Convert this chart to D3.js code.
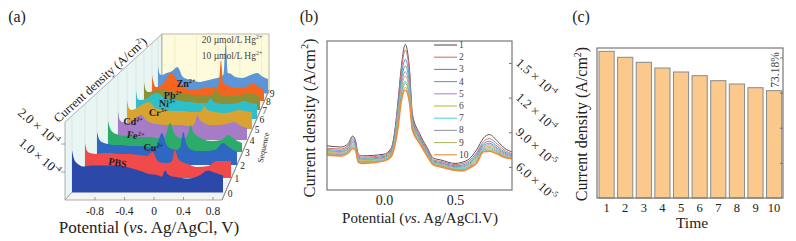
<!DOCTYPE html>
<html>
<head>
<meta charset="utf-8">
<script src="https://cdn.jsdelivr.net/npm/d3@7"></script>
<style>
  body { margin: 0; background: #fff; }
  svg { display: block; }
  text { font-family: "Liberation Serif", serif; fill: #222; }
</style>
</head>
<body>
<svg width="796" height="241"></svg>
<script>
// (a) waterfall, values in 1e-4 A/cm2 above each layer's own baseline
const wfPotential = [-1.11, -1.08, -1.04, -0.95, -0.85, -0.75, -0.65, -0.5, -0.35, -0.25, -0.17, -0.1, -0.02, 0.05, 0.1, 0.14, 0.18, 0.24, 0.32, 0.45, 0.6, 0.72, 0.8, 0.92];
const wf0 = [1.5, 1.18, 1.04, .93, .96, .96, .96, .96, .89, .82, .75, .68, .64, .61, .57, .79, .64, .57, .54, .5, .61, .79, .71, .61];
const wf1 = [1.25, .96, .89, .86, .89, .89, .86, .86, .82, .79, .93, .61, .54, .54, .61, 1, .71, .57, .5, .39, .43, .61, .61, .61];
const wf2 = [1.18, .93, .82, .75, .71, .71, .68, .68, .64, .68, 1.14, .71, .57, .54, .64, 1.18, .79, .57, .5, .5, .54, .79, .64, .46];
const wf3 = [1.11, .86, .71, .61, .57, .57, .54, .54, .5, .54, 1.04, .64, .5, .5, .61, .96, .71, .57, .46, .39, .43, .61, .46, .32];
const wf4 = [1.04, .71, .64, .61, .75, .89, .68, .57, .54, .54, .54, .54, .5, .5, .61, .89, .71, .61, .54, .54, .57, .64, .54, .43];
const wf5 = [1.04, .75, .68, .75, .89, .96, .75, .68, .64, .64, .64, .61, .61, .61, .64, .82, .71, .64, .61, .57, .61, .68, .64, .61];
const wf6 = [1.04, .71, .68, .71, .86, .93, .79, .71, .64, .61, .61, .57, .57, .57, .61, .75, .64, .57, .54, .54, .57, .64, .57, .54];
const wf7 = [1, .71, .64, .68, .75, .75, .64, .61, .57, .54, .54, .54, .54, .54, .57, .79, .64, .54, .5, .5, .54, .61, .57, .5];
const wf8 = [.93, .64, .5, .54, .79, 1, .71, .46, .39, .43, .46, .46, .5, .5, .61, 1.46, .64, .57, .5, .46, .5, .64, .54, .39];
const wf9 = [.96, .68, .64, .71, .79, .93, .57, .46, .39, .43, .46, .5, .54, .57, .68, 1.82, .71, .68, .57, .54, .64, .71, .61, .5];
const wfLayers = [wf0, wf1, wf2, wf3, wf4, wf5, wf6, wf7, wf8, wf9];
const wfColors = ['#2c48a8', '#f14a4a', '#2f68c2', '#2cab6a', '#a67cc6', '#d8a42f', '#2ebfcb', '#8e9036', '#f4661f', '#5c96d6'];
const sequence = [0, 1, 2, 3, 4, 5, 6, 7, 8, 9];
const potentialTicks = [-0.8, -0.4, 0, 0.4, 0.8];
const potentialTickLabels = ['-0.8', '-0.4', '0', '0.4', '0.8'];
const ionLabels = ['PBS', 'Cu', 'Fe', 'Cd', 'Cr', 'Ni', 'Pb', 'Zn'];
const ionCharges = ['', '2+', '2+', '2+', '3+', '3+', '2+', '2+'];

// (b) repeat scans, values in 1e-5 A/cm2
const scanPotential = [-0.4, -0.3, -0.25, -0.22, -0.2, -0.18, -0.15, 0, 0.05, 0.08, 0.1, 0.12, 0.15, 0.18, 0.2, 0.25, 0.3, 0.35, 0.4, 0.5, 0.55, 0.6, 0.65, 0.7, 0.74, 0.8, 0.85, 0.9];
const scan1 = [7.83, 7.72, 8.05, 8.67, 8.3, 7.1, 6.96, 7.1, 7.6, 9.45, 11.8, 14.4, 16.6, 14.4, 10.6, 8.9, 7.75, 6.75, 6.6, 6.3, 6.4, 6.7, 7.45, 8.5, 8.8, 8.2, 7.6, 7.3];
const scan2 = [7.62, 7.55, 7.9, 8.52, 8.14, 6.95, 6.85, 7.0, 7.5, 9.3, 11.6, 14.1, 16.13, 14.1, 10.4, 8.75, 7.62, 6.6, 6.48, 6.2, 6.28, 6.55, 7.2, 8.2, 8.45, 7.95, 7.42, 7.15];
const scan3 = [7.5, 7.44, 7.78, 8.36, 8.0, 6.85, 6.75, 6.9, 7.4, 9.1, 11.35, 13.6, 15.3, 13.6, 10.2, 8.6, 7.5, 6.5, 6.38, 6.1, 6.16, 6.42, 7.05, 8.0, 8.22, 7.75, 7.28, 7.05];
const scan4 = [7.4, 7.34, 7.66, 8.22, 7.9, 6.76, 6.66, 6.82, 7.3, 8.95, 11.1, 13.2, 14.74, 13.2, 10.0, 8.5, 7.4, 6.42, 6.3, 6.02, 6.06, 6.3, 6.92, 7.85, 8.05, 7.6, 7.18, 6.95];
const scan5 = [7.32, 7.26, 7.56, 8.1, 7.8, 6.68, 6.6, 6.75, 7.2, 8.8, 10.85, 12.85, 14.25, 12.85, 9.85, 8.4, 7.32, 6.35, 6.22, 5.95, 5.98, 6.22, 6.8, 7.72, 7.92, 7.5, 7.08, 6.88];
const scan6 = [7.25, 7.18, 7.48, 8.0, 7.72, 6.62, 6.53, 6.7, 7.13, 8.65, 10.6, 12.5, 13.87, 12.5, 9.7, 8.32, 7.25, 6.3, 6.16, 5.88, 5.9, 6.14, 6.7, 7.6, 7.8, 7.42, 7.0, 6.82];
const scan7 = [7.18, 7.12, 7.4, 7.9, 7.65, 6.56, 6.46, 6.63, 7.05, 8.5, 10.3, 12.2, 13.44, 12.2, 9.55, 8.24, 7.18, 6.25, 6.1, 5.82, 5.84, 6.06, 6.6, 7.52, 7.68, 7.34, 6.94, 6.76];
const scan8 = [7.12, 7.06, 7.34, 7.8, 7.58, 6.5, 6.42, 6.58, 7.0, 8.38, 10.1, 12.0, 13.24, 12.0, 9.45, 8.18, 7.12, 6.2, 6.06, 5.78, 5.76, 6.0, 6.5, 7.44, 7.56, 7.26, 6.88, 6.74];
const scan9 = [7.06, 7.0, 7.26, 7.7, 7.52, 6.45, 6.36, 6.54, 6.92, 8.2, 9.8, 11.7, 12.89, 11.7, 9.3, 8.1, 7.06, 6.16, 6.02, 5.74, 5.7, 5.95, 6.4, 7.36, 7.44, 7.18, 6.84, 6.72];
const scan10 = [7.0, 6.95, 7.2, 7.6, 7.45, 6.4, 6.3, 6.5, 6.85, 8.05, 9.45, 11.5, 12.66, 11.5, 9.2, 8.05, 7.0, 6.15, 6.0, 5.7, 5.65, 5.9, 6.3, 7.3, 7.35, 7.1, 6.8, 6.7];
const scans = [scan1, scan2, scan3, scan4, scan5, scan6, scan7, scan8, scan9, scan10];
const scanColors = ['#555555', '#e06a6a', '#5a8cdc', '#4fb096', '#b884dc', '#c8b448', '#58d4dc', '#9a9aa8', '#b0b860', '#f08a3c'];
const scanNames = ['1', '2', '3', '4', '5', '6', '7', '8', '9', '10'];
const scanYTicks = [15, 12, 9, 6];
const scanYBases = ['1.5', '1.2', '9.0', '6.0'];
const scanYExps = ['-4', '-4', '-5', '-5'];

// (c) peak current per run, 1e-5 A/cm2
const times = ['1', '2', '3', '4', '5', '6', '7', '8', '9', '10'];
const peakCurrent = [16.7, 16.02, 15.45, 14.8, 14.35, 13.93, 13.36, 12.98, 12.56, 12.22];

const svg = d3.select('svg');

// text helper, pieces are [string, style] where style is 'i', 'sup' or nothing
const addText = (parent, x, y, size, pieces, opts = {}) => {
    const t = parent.append('text')
        .attr('font-size', size)
        .attr('text-anchor', opts.anchor || 'middle')
        .attr('transform', `translate(${x},${y}) rotate(${opts.rotate || 0})`);
    if (opts.bold) t.attr('font-weight', 'bold');
    if (opts.fill) t.style('fill', opts.fill);
    let up = false;
    pieces.forEach(p => {
        const s = t.append('tspan').text(p[0]);
        if (p[1] === 'i') s.attr('font-style', 'italic');
        if (p[1] === 'sup') { s.attr('font-size', size * 0.62).attr('dy', -size * 0.4); up = true; }
        else if (up) { s.attr('dy', size * 0.4); up = false; }
    });
    return t;
};

addText(svg, 17, 22, 16, [['(a)']]);
addText(svg, 309, 22, 16, [['(b)']]);
addText(svg, 581, 22, 16, [['(c)']]);

// ---------- panel a ----------
const a = svg.append('g');
const layerLeft = d3.scaleLinear().domain(sequence).range([72, 85, 97, 108, 118, 127, 136, 144, 152, 158]);
const layerRight = d3.scaleLinear().domain(sequence).range([223, 231, 237, 242, 247, 252, 257, 260, 264, 268]);
const layerBase = d3.scaleLinear().domain(sequence).range([192.5, 178, 165, 152, 140, 129, 119, 110, 101, 93]);
const heightScale = d3.scaleLinear().domain([0, 1]).range([0, 28]);
const floorX = d3.scaleLinear().domain([-0.8, 0.8]).range([95, 213]);

// left wall, floor and back wall
a.append('path').attr('d', d3.line()([[65, 200], [65, 122], [162, 34], [162, 93]]) + 'Z')
    .attr('fill', '#e9f5f3').attr('stroke', '#9a9a9a').attr('stroke-width', 0.8);
a.append('path').attr('d', d3.line()([[65, 200], [222, 200], [268, 93], [162, 93]]) + 'Z')
    .attr('fill', '#f4f4f2').attr('stroke', '#9a9a9a').attr('stroke-width', 0.8);
a.append('rect').attr('x', 162).attr('y', 34).attr('width', 107).attr('height', 59)
    .attr('fill', '#fdfbdc').attr('stroke', '#a8a8a0').attr('stroke-width', 0.8);

sequence.forEach(i => {
    const lx = layerLeft(i);
    const wallTop = 122 + (lx - 65) * (34 - 122) / (162 - 65);
    a.append('line').attr('x1', lx).attr('x2', lx).attr('y1', wallTop).attr('y2', layerBase(i))
        .attr('stroke', '#cfdedc').attr('stroke-width', 0.6);
});
potentialTicks.forEach(p => {
    const xBack = d3.scaleLinear().domain([-1.11, 0.92]).range([layerLeft(9), layerRight(9)])(p);
    a.append('line').attr('x1', xBack).attr('x2', xBack).attr('y1', 34).attr('y2', 93)
        .attr('stroke', '#e8e6c6').attr('stroke-width', 0.6);
});

// back layer first, front layers hide it
sequence.slice().reverse().forEach(i => {
    const x = d3.scaleLinear().domain([-1.11, 0.92]).range([layerLeft(i), layerRight(i)]);
    const area = d3.area()
        .x((d, k) => x(wfPotential[k]))
        .y0(layerBase(i))
        .y1(d => layerBase(i) - heightScale(d))
        .curve(d3.curveMonotoneX);
    a.append('path').attr('d', area(wfLayers[i])).attr('fill', wfColors[i]);
});

// potential ticks along the floor
potentialTicks.forEach((p, k) => {
    a.append('line').attr('x1', floorX(p)).attr('x2', floorX(p)).attr('y1', 200).attr('y2', 197)
        .attr('stroke', '#888').attr('stroke-width', 0.8);
    addText(a, floorX(p), 215, 11.5, [[potentialTickLabels[k]]]);
});
addText(a, 149, 233, 17, [['Potential ('], ['vs', 'i'], ['. Ag/AgCl, V)']]);

// wall tick labels
a.append('line').attr('x1', 65).attr('x2', 61).attr('y1', 172).attr('y2', 172).attr('stroke', '#888').attr('stroke-width', 0.8);
a.append('line').attr('x1', 65).attr('x2', 61).attr('y1', 144).attr('y2', 144).attr('stroke', '#888').attr('stroke-width', 0.8);
addText(a, 36, 130, 13, [['2.0 × 10'], ['-4', 'sup']], { rotate: 40 });
addText(a, 37, 160, 13, [['1.0 × 10'], ['-4', 'sup']], { rotate: 40 });
addText(a, 103, 83, 12.5, [['Current density (A/cm'], ['2', 'sup'], [')']], { rotate: -42 });

// sequence axis
a.append('line').attr('x1', 222).attr('y1', 200).attr('x2', 269).attr('y2', 90).attr('stroke', '#888').attr('stroke-width', 0.9);
sequence.forEach(i => {
    addText(a, layerRight(i) + (i === 0 ? 7 : 6) - i * 0.2, layerBase(i) + 4, 9.5, [[String(i)]]);
});
addText(a, 266, 148, 8, [['Sequence']], { rotate: -78 });

// ion labels, placed on their layers
const ionX = [117, 153, 135, 133, 158, 167, 173, 186];
const ionY = [166, 151, 139, 125, 116, 107, 99, 87];
const ionRot = [10, 5, 10, 3, 2, 3, 0, 0];
ionLabels.forEach((n, k) => {
    const pieces = ionCharges[k] ? [[n], [ionCharges[k], 'sup']] : [[n]];
    addText(a, ionX[k], ionY[k], 10, pieces, { rotate: ionRot[k], bold: true, fill: '#1c1c2a' });
});
addText(a, 232, 43, 9.5, [['20 µmol/L Hg'], ['2+', 'sup']], { fill: '#444' });
addText(a, 232, 59, 9.5, [['10 µmol/L Hg'], ['2+', 'sup']], { fill: '#444' });

// ---------- panel b ----------
const b = svg.append('g');
const bx = d3.scaleLinear().domain([-0.4, 0.9]).range([327, 512]);
const by = d3.scaleLinear().domain([4, 16.9]).range([190, 41]);
const scanLine = d3.line()
    .x((d, k) => bx(scanPotential[k]))
    .y(d => by(d))
    .curve(d3.curveMonotoneX);

scans.forEach((s, i) => {
    b.append('path').attr('d', scanLine(s)).attr('fill', 'none')
        .attr('stroke', scanColors[i]).attr('stroke-width', i === 9 ? 1.5 : 1);
});
b.append('rect').attr('x', 327).attr('y', 41).attr('width', 185).attr('height', 149)
    .attr('fill', 'none').attr('stroke', '#777').attr('stroke-width', 1.2);

const bAxis = b.append('g').attr('transform', 'translate(0,190)')
    .call(d3.axisBottom(bx).tickValues([0, 0.5]).tickFormat(d3.format('.1f')).tickSizeInner(0).tickSizeOuter(0).tickPadding(5));
bAxis.select('.domain').remove();
bAxis.selectAll('text').attr('font-size', 14).attr('font-family', null);

const bRight = b.append('g').attr('transform', 'translate(512,0)')
    .call(d3.axisRight(by).tickValues(scanYTicks).tickSizeInner(-3).tickSizeOuter(0).tickFormat(''));
bRight.select('.domain').remove();
bRight.selectAll('line').attr('stroke', '#777');
scanYTicks.forEach((v, k) => {
    addText(b, 515, by(v) + 1, 13, [[scanYBases[k] + ' × 10'], [scanYExps[k], 'sup']], { anchor: 'start', rotate: 42 });
});

addText(b, 315, 118, 16.5, [['Current density (A/cm'], ['2', 'sup'], [')']], { rotate: -90 });
addText(b, 420, 223, 15, [['Potential ('], ['vs', 'i'], ['. Ag/AgCl.V)']]);

scanNames.forEach((n, i) => {
    const y = 45 + 12.2 * i;
    b.append('line').attr('x1', 434).attr('x2', 457).attr('y1', y).attr('y2', y)
        .attr('stroke', scanColors[i]).attr('stroke-width', 1.1);
    addText(b, 459, y + 3, 9.5, [[n]], { anchor: 'start', fill: '#444' });
});

// ---------- panel c ----------
const c = svg.append('g');
const cx = d3.scaleBand().domain(times).range([599, 781.7]).paddingInner(0.185);
const cy = d3.scaleLinear().domain([0, 17.08]).range([198, 48]);

c.selectAll('rect.bar').data(peakCurrent).enter().append('rect')
    .attr('class', 'bar')
    .attr('x', (d, i) => cx(times[i]))
    .attr('y', d => cy(d))
    .attr('width', cx.bandwidth())
    .attr('height', d => cy(0) - cy(d))
    .attr('fill', '#fbc98c')
    .attr('stroke', '#8a8a8a')
    .attr('stroke-width', 1);
c.append('rect').attr('x', 597).attr('y', 48).attr('width', 186).attr('height', 150)
    .attr('fill', 'none').attr('stroke', '#777').attr('stroke-width', 1.2);

const cBottom = c.append('g').attr('transform', 'translate(0,198)')
    .call(d3.axisBottom(cx).tickSize(0).tickPadding(5));
cBottom.select('.domain').remove();
cBottom.selectAll('text').attr('font-size', 12.5).attr('font-family', null);

const cRight = c.append('g').attr('transform', 'translate(783,0)')
    .call(d3.axisRight(cy).tickValues([4, 8, 12, 16]).tickSizeInner(-3).tickSizeOuter(0).tickFormat(''));
cRight.select('.domain').remove();
cRight.selectAll('line').attr('stroke', '#777');

addText(c, 779, 70, 11.5, [['73.18%']], { rotate: -90, fill: '#444' });
addText(c, 692, 228, 15.5, [['Time']]);
addText(c, 587, 124, 16, [['Current density (A/cm'], ['2', 'sup'], [')']], { rotate: -90 });
</script>
</body>
</html>
